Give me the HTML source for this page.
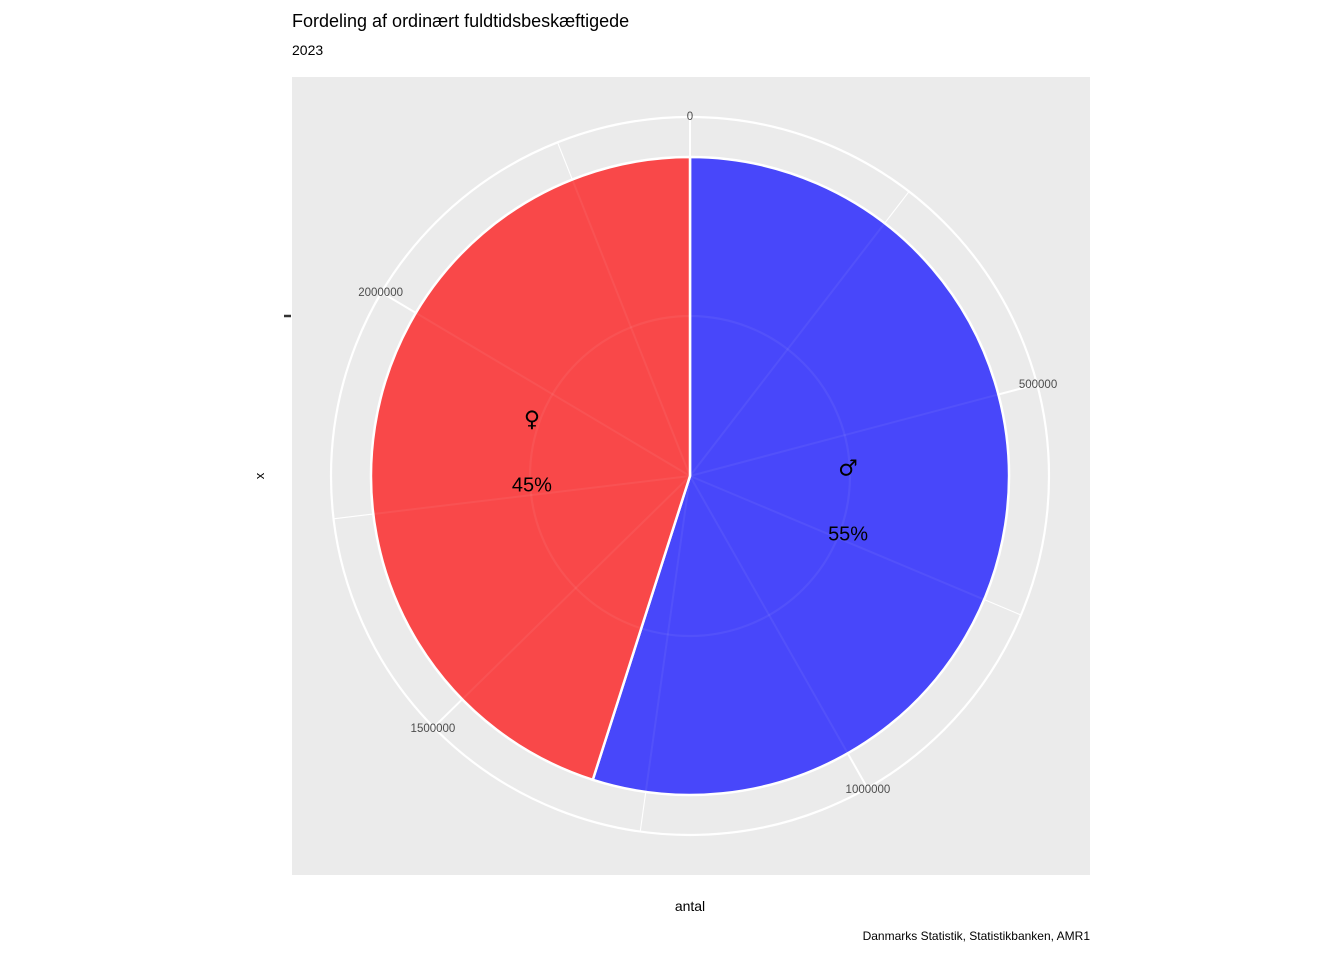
<!DOCTYPE html>
<html><head><meta charset="utf-8"><style>
body{margin:0;background:#fff;}
svg text{font-family:"Liberation Sans","DejaVu Sans",sans-serif;}
svg text.sym{font-family:"DejaVu Sans",sans-serif;}
</style></head><body>
<svg width="1344" height="960" viewBox="0 0 1344 960" xmlns="http://www.w3.org/2000/svg">
<text x="292" y="27" font-size="18" fill="#000">Fordeling af ordinært fuldtidsbeskæftigede</text>
<text x="292" y="55" font-size="14" fill="#000">2023</text>
<rect x="292" y="77" width="798" height="798" fill="#ebebeb"/>
<g id="grid"></g>
<g id="pie"></g>
<g id="overgrid"></g>
<g id="ticklabels"></g>
<g id="labels"></g>
<text x="690" y="911" font-size="14" text-anchor="middle">antal</text>
<text transform="translate(264,476) rotate(-90)" font-size="13" text-anchor="middle">x</text>
<line x1="284" y1="316" x2="291" y2="316" stroke="#333" stroke-width="2.5"/>
<text x="1090" y="940" font-size="12" text-anchor="end">Danmarks Statistik, Statistikbanken, AMR1</text>
</svg>
<script>
const categories = ["mænd","kvinder"];
const symbols = ["♂","♀"];
const values = [1315000, 1079000];
const colors = ["#4847fa","#f94849"];
const majorTicks = [0, 500000, 1000000, 1500000, 2000000];
const minorTicks = [250000, 750000, 1250000, 1750000, 2250000];
const tickLabels = ["0","500000","1000000","1500000","2000000"];

const NS="http://www.w3.org/2000/svg";
const cx=690, cy=476, rPie=319, rOuter=359, rInner=160, rLabel=160;
const total = values.reduce((a,b)=>a+b,0);
function ang(v){return v/total*2*Math.PI;}
function pt(a,r){return [cx+r*Math.sin(a), cy-r*Math.cos(a)];}
function mk(tag,attrs,parent){const e=document.createElementNS(NS,tag);for(const k in attrs)e.setAttribute(k,attrs[k]);parent.appendChild(e);return e;}
const grid=document.getElementById('grid'), pie=document.getElementById('pie'), og=document.getElementById('overgrid'), lab=document.getElementById('labels'), tl=document.getElementById('ticklabels');

let c=mk('circle',{cx:cx,cy:cy,r:rOuter,fill:'none',stroke:'#fff','stroke-width':2.2},grid);


c=mk('circle',{cx:cx,cy:cy,r:rInner,fill:'none',stroke:'#fff','stroke-width':2.2},grid);


majorTicks.forEach((v,i)=>{
  const a=ang(v);const p=pt(a,rOuter);
  let l=mk('line',{x1:cx,y1:cy,x2:p[0],y2:p[1],stroke:'#fff','stroke-width':2},grid);
  
  
  const q=pt(a,rOuter+1);
  let t=mk('text',{x:q[0],y:q[1]+4,'font-size':11.5,fill:'#4d4d4d','text-anchor':'middle'},tl);
  t.textContent=tickLabels[i];
  
  
});
minorTicks.forEach(v=>{
  const a=ang(v);const p=pt(a,rOuter);
  let l=mk('line',{x1:cx,y1:cy,x2:p[0],y2:p[1],stroke:'#fff','stroke-width':1.1},grid);
  
  
});
let cum=0;
values.forEach((v,i)=>{
  const a0=ang(cum), a1=ang(cum+v);
  const p0=pt(a0,rPie), p1=pt(a1,rPie);
  const large=(a1-a0)>Math.PI?1:0;
  let s=mk('path',{d:`M${cx},${cy} L${p0[0]},${p0[1]} A${rPie},${rPie} 0 ${large} 1 ${p1[0]},${p1[1]} Z`,fill:colors[i],stroke:'#fff','stroke-width':2.5},pie);
  
  
  const am=(a0+a1)/2;const m=pt(am,rLabel);
  let t1=mk('text',{x:m[0],y:m[1]-25,'font-size':22,'class':'sym','text-anchor':'middle',fill:'#000'},lab);
  t1.textContent=symbols[i];
  
  
  let t2=mk('text',{x:m[0],y:m[1]+40,'font-size':20,'text-anchor':'middle',fill:'#000'},lab);
  t2.textContent=Math.round(v/total*100)+'%';
  
  
  cum+=v;
});
[...majorTicks,...minorTicks].forEach(v=>{
  const p=pt(ang(v),rPie);
  let l=mk('line',{x1:cx,y1:cy,x2:p[0],y2:p[1],stroke:'#fff','stroke-opacity':0.06,'stroke-width':2},og);
  
  
});
c=mk('circle',{cx:cx,cy:cy,r:rInner,fill:'none',stroke:'#fff','stroke-opacity':0.06,'stroke-width':2.2},og);


</script>
</body></html>
